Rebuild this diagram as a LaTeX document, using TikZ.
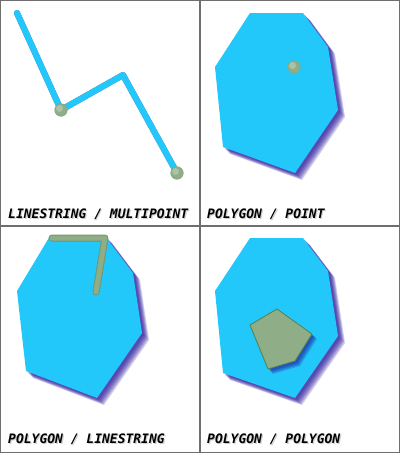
\documentclass[tikz,border=0pt]{standalone}
\usepackage{fontspec}
\setmonofont{DejaVu Sans Mono}
\usetikzlibrary{calc}
\definecolor{geoblue}{HTML}{22C8FA}
\definecolor{haze}{HTML}{1E0A96}
\definecolor{sage}{HTML}{8FAE88}
\definecolor{sagedark}{HTML}{557F4C}
\definecolor{rule}{HTML}{6E6E6E}
\tikzset{
  cell/.style={draw=rule,line width=1.3pt},
  area/.style={fill=geoblue},
  haze/.style={fill=haze,opacity=0.2},
  hazeline/.style={draw=haze,opacity=0.18,line width=6pt,line join=round,line cap=round},
  track/.style={draw=geoblue,line width=6pt,line join=round,line cap=round},
  knob/.style={fill=sage,draw=sagedark!70,line width=0.5pt},
  patch/.style={fill=sage,draw=sagedark,line width=0.8pt,line join=round},
  tag/.style={anchor=base west,inner sep=0pt,font=\fontsize{13}{15}\ttfamily\bfseries\itshape}
}
\newcommand\tagtext[3]{%
  \node[tag,text=black!18] at ($(#1)+(1.2,1.2)$) {#3};
  \node[tag] (#2) at (#1) {#3};}

\begin{document}
\begin{tikzpicture}[x=1pt,y=-1pt]
  \useasboundingbox (0,0) rectangle (400,453);
  \fill[white] (0,0) rectangle (400,453);

  % linestring / multipoint
  \coordinate (l1) at (17,13);
  \coordinate (l2) at (61,110);
  \coordinate (l3) at (123,75);
  \coordinate (l4) at (177,173);
  \foreach \d in {1,...,5}
    \draw[hazeline,shift={(\d,\d)}] (l1) -- (l2) -- (l3) -- (l4);
  \draw[track] (l1) -- (l2) -- (l3) -- (l4);
  \foreach \p in {l2,l4} {
    \foreach \d in {2,...,5}
      \fill[haze,shift={(\d,\d)}] (\p) circle (6);
    \fill[knob] (\p) circle (6.3);
    \fill[white,opacity=0.25] ($(\p)+(-1.5,-1.5)$) circle (3.5);
  }
  \tagtext{8,218}{t1}{LINESTRING / MULTIPOINT}

  % polygon / point
  \begin{scope}[shift={(200,0)}]
    \foreach \d in {2,...,7}
      \fill[haze,shift={(\d,\d)}] (50,13) -- (103,13) -- (128,47) -- (138,110) -- (95,173) -- (23,147) -- (15,67) -- cycle;
    \fill[area] (50,13) -- (103,13) -- (128,47) -- (138,110) -- (95,173) -- (23,147) -- (15,67) -- cycle;
    \coordinate (pt) at (94,67);
    \foreach \d in {2,...,5}
      \fill[haze,shift={(\d,\d)}] (pt) circle (6);
    \fill[knob] (pt) circle (6.3);
    \fill[white,opacity=0.25] ($(pt)+(-1.5,-1.5)$) circle (3.5);
    \tagtext{7,218}{t2}{POLYGON / POINT}
  \end{scope}

  % polygon / linestring
  \begin{scope}[shift={(0,226)}]
    \foreach \d in {2,...,7}
      \fill[haze,shift={(\d,\d)}] (50,10) -- (105,10) -- (133,47) -- (142,107) -- (97,172) -- (26,145) -- (17,65) -- cycle;
    \fill[area] (50,10) -- (105,10) -- (133,47) -- (142,107) -- (97,172) -- (26,145) -- (17,65) -- cycle;
    \coordinate (g1) at (52,12);
    \coordinate (g2) at (105,12);
    \coordinate (g3) at (96,66);
    \foreach \d in {2,...,5}
      \draw[hazeline,shift={(\d,\d)}] (g1) -- (g2) -- (g3);
    \draw[line width=7pt,sagedark!80,line cap=round,line join=round] (g1) -- (g2) -- (g3);
    \draw[line width=5pt,sage,line cap=round,line join=round] (g1) -- (g2) -- (g3);
    \tagtext{8,217}{t3}{POLYGON / LINESTRING}
  \end{scope}

  % polygon / polygon
  \begin{scope}[shift={(200,226)}]
    \foreach \d in {2,...,7}
      \fill[haze,shift={(\d,\d)}] (50,12) -- (103,12) -- (128,45) -- (138,110) -- (95,172) -- (23,147) -- (15,65) -- cycle;
    \fill[area] (50,12) -- (103,12) -- (128,45) -- (138,110) -- (95,172) -- (23,147) -- (15,65) -- cycle;
    \foreach \d in {2,...,5}
      \fill[haze,shift={(\d,\d)}] (50,99) -- (77,83) -- (112,108) -- (95,135) -- (68,143) -- cycle;
    \filldraw[patch] (50,99) -- (77,83) -- (112,108) -- (95,135) -- (68,143) -- cycle;
    \tagtext{7,217}{t4}{POLYGON / POLYGON}
  \end{scope}

  % frame
  \draw[cell] (0.6,0.6) rectangle (399.4,452.4);
  \draw[cell] (200,0) -- (200,453);
  \draw[cell] (0,226) -- (400,226);
\end{tikzpicture}
\end{document}
